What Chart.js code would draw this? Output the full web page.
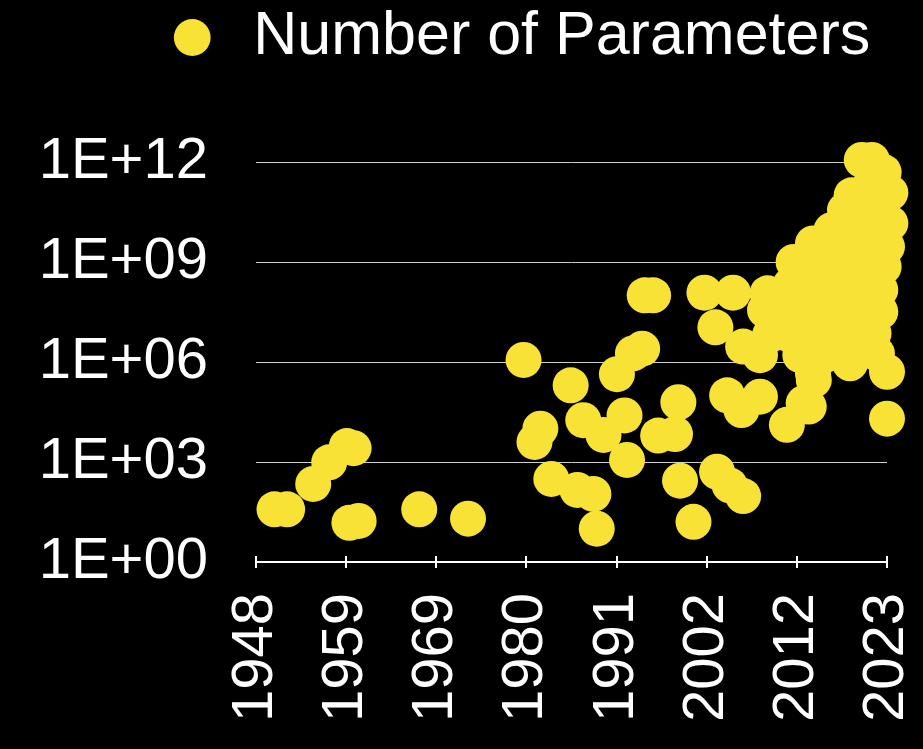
<!DOCTYPE html>
<html>
<head>
<meta charset="utf-8">
<title>Number of Parameters</title>
<script src="https://cdn.jsdelivr.net/npm/chart.js@4/dist/chart.umd.min.js"></script>
<style>
  html, body { margin: 0; padding: 0; background: #000; }
  #chart { display: block; }
</style>
</head>
<body>
<canvas id="chart" width="923" height="749"></canvas>
<script>
// Chart data
const SERIES_LABEL = 'Number of Parameters';

const years = [
  1950.2, 1951.7, 1954.8, 1956.7, 1958.8, 1959.6, 1959.1, 1960.2, 1967.4, 1973.2,
  1979.8, 1981.1, 1981.8, 1983.1, 1985.4, 1986.2, 1986.9, 1988.1, 1988.5, 1989.3,
  1990.9, 1991.8, 1992.1, 1992.8, 1993.9, 1994.2, 1995.2, 1995.8, 1997.8, 1998.2,
  1998.4, 2000.0, 2001.3, 2002.6, 2002.8, 2004.0, 2004.3, 2004.7, 2005.7, 2005.9,
  2005.9, 2007.9, 2007.9, 2008.5, 2008.8, 2009.1, 2010.9, 2011.1, 2011.5, 2011.5,
  2011.9, 2012.7, 2013.1, 2013.3, 2013.7, 2013.9, 2013.9, 2014.2, 2014.2, 2014.3,
  2014.4, 2015.6, 2015.6, 2016.2, 2016.2, 2016.4, 2016.8, 2018.0, 2018.0, 2018.6,
  2018.6, 2018.6, 2018.6, 2018.8, 2019.2, 2020.0, 2020.0, 2020.4, 2020.4, 2021.0,
  2021.0, 2021.2, 2021.4, 2021.8, 2022.2, 2022.2, 2022.6, 2022.6, 2023.0, 2023.0,
  2023.0, 2023.4, 2023.4
];

const parameters = [
  38, 38, 220, 980, 3000, 2600, 15, 17, 38, 20,
  1.15e6, 4000, 1.0e4, 310, 2.0e5, 145, 1.8e4, 110, 10, 6500,
  4.3e5, 2.5e4, 1150, 1.8e6, 2.5e6, 1.0e8, 1.0e8, 6200, 6900, 6.2e4,
  275, 16, 1.2e8, 1.1e7, 510, 1.0e5, 200, 1.2e8, 3.6e4, 2.9e6,
  95, 9.1e4, 1.6e6, 3.6e7, 1.15e8, 6.5e6, 3.6e7, 1.3e4, 2.0e8, 6.5e6,
  1.0e9, 1.6e6, 5.8e4, 3.6e7, 4.6e4, 2.0e8, 6.5e6, 3.6e9, 4.6e5, 2.9e5,
  1.15e9, 3.6e7, 1.6e6, 2.0e8, 6.5e6, 9.0e9, 1.15e9, 3.6e10, 3.6e7, 6.5e9,
  2.0e8, 6.5e6, 9.1e5, 1.0e11, 1.15e9, 1.15e12, 3.6e7, 3.6e10, 2.0e8, 2.0e11,
  6.5e9, 1.15e12, 7.2e6, 1.8e6, 1.45e8, 3.2e7, 5.0e11, 7.2e8, 2.9e9, 5.1e5,
  2.0e4, 1.2e11, 1.45e10
];

// Axis ranges and tick labels
const X_MIN = 1948;
const X_MAX = 2023;
const X_TICK_LABELS = ['1948', '1959', '1969', '1980', '1991', '2002', '2012', '2023'];
const Y_MIN = 1;
const Y_MAX = 1e12;
const Y_TICKS = [1, 1e3, 1e6, 1e9, 1e12];
const Y_TICK_LABELS = ['1E+00', '1E+03', '1E+06', '1E+09', '1E+12'];

// Styling
const YELLOW = '#F8E235';
const WHITE = '#FFFFFF';
const FONT = 'Liberation Sans, Arial, Helvetica, sans-serif';
const LEGEND_GAP = 84;
const LEGEND_SHIFT = 53;
const Y_AXIS_WIDTH = 217;
const X_AXIS_HEIGHT = 187;

const points = years.map((year, i) => ({ x: year, y: parameters[i] }));

// Legend needs extra space under it and a small horizontal nudge
const legendSpacing = {
    id: 'legendSpacing',
    beforeInit(chart) {
        const fit = chart.legend.fit;
        chart.legend.fit = function () {
            fit.call(this);
            this.height += LEGEND_GAP;
        };
    },
    afterLayout(chart) {
        chart.legend.left += LEGEND_SHIFT;
        chart.legend.right += LEGEND_SHIFT;
    }
};

// The x tick marks cross the axis line, so draw the upper half too
const crossTicks = {
    id: 'crossTicks',
    afterDraw(chart) {
        const xScale = chart.scales.x;
        const ctx = chart.ctx;
        ctx.save();
        ctx.strokeStyle = WHITE;
        ctx.lineWidth = 2;
        xScale.ticks.forEach(tick => {
            const px = Math.round(xScale.getPixelForValue(tick.value));
            ctx.beginPath();
            ctx.moveTo(px, xScale.top - 6);
            ctx.lineTo(px, xScale.top);
            ctx.stroke();
        });
        ctx.restore();
    }
};

new Chart(document.getElementById('chart'), {
    type: 'scatter',
    data: {
        datasets: [{
            label: SERIES_LABEL,
            data: points,
            backgroundColor: YELLOW,
            borderColor: YELLOW,
            borderWidth: 0,
            pointRadius: 18,
            pointHoverRadius: 18,
            clip: false
        }]
    },
    options: {
        responsive: false,
        devicePixelRatio: 1,
        animation: false,
        layout: {
            padding: { left: 39, right: 36, top: 0, bottom: 0 }
        },
        plugins: {
            legend: {
                position: 'top',
                align: 'center',
                labels: {
                    usePointStyle: true,
                    pointStyle: 'circle',
                    boxWidth: 62,
                    boxHeight: 26,
                    padding: 7,
                    color: WHITE,
                    font: { family: FONT, size: 61 }
                }
            },
            tooltip: { enabled: false }
        },
        scales: {
            x: {
                type: 'linear',
                min: X_MIN,
                max: X_MAX,
                afterBuildTicks: scale => {
                    const step = (X_MAX - X_MIN) / (X_TICK_LABELS.length - 1);
                    scale.ticks = X_TICK_LABELS.map((_, i) => ({ value: X_MIN + i * step }));
                },
                afterFit: scale => {
                    scale.paddingRight = 0;
                    scale.height = X_AXIS_HEIGHT;
                },
                ticks: {
                    autoSkip: false,
                    maxRotation: 90,
                    minRotation: 90,
                    padding: 25,
                    color: WHITE,
                    font: { family: FONT, size: 58 },
                    callback: (value, index) => X_TICK_LABELS[index]
                },
                grid: {
                    drawOnChartArea: false,
                    drawTicks: true,
                    tickLength: 6,
                    color: WHITE,
                    lineWidth: 2
                },
                border: { display: true, color: WHITE, width: 2 }
            },
            y: {
                type: 'logarithmic',
                min: Y_MIN,
                max: Y_MAX,
                afterBuildTicks: scale => {
                    scale.ticks = Y_TICKS.map(v => ({ value: v }));
                },
                afterFit: scale => {
                    scale.width = Y_AXIS_WIDTH;
                },
                ticks: {
                    padding: 48,
                    color: WHITE,
                    font: { family: FONT, size: 58 },
                    callback: (value, index) => Y_TICK_LABELS[index]
                },
                grid: {
                    drawTicks: false,
                    color: ctx => (ctx.tick && ctx.tick.value === Y_MIN ? 'transparent' : '#cfcfcf'),
                    lineWidth: 1
                },
                border: { display: false }
            }
        }
    },
    plugins: [legendSpacing, crossTicks]
});
</script>
</body>
</html>
